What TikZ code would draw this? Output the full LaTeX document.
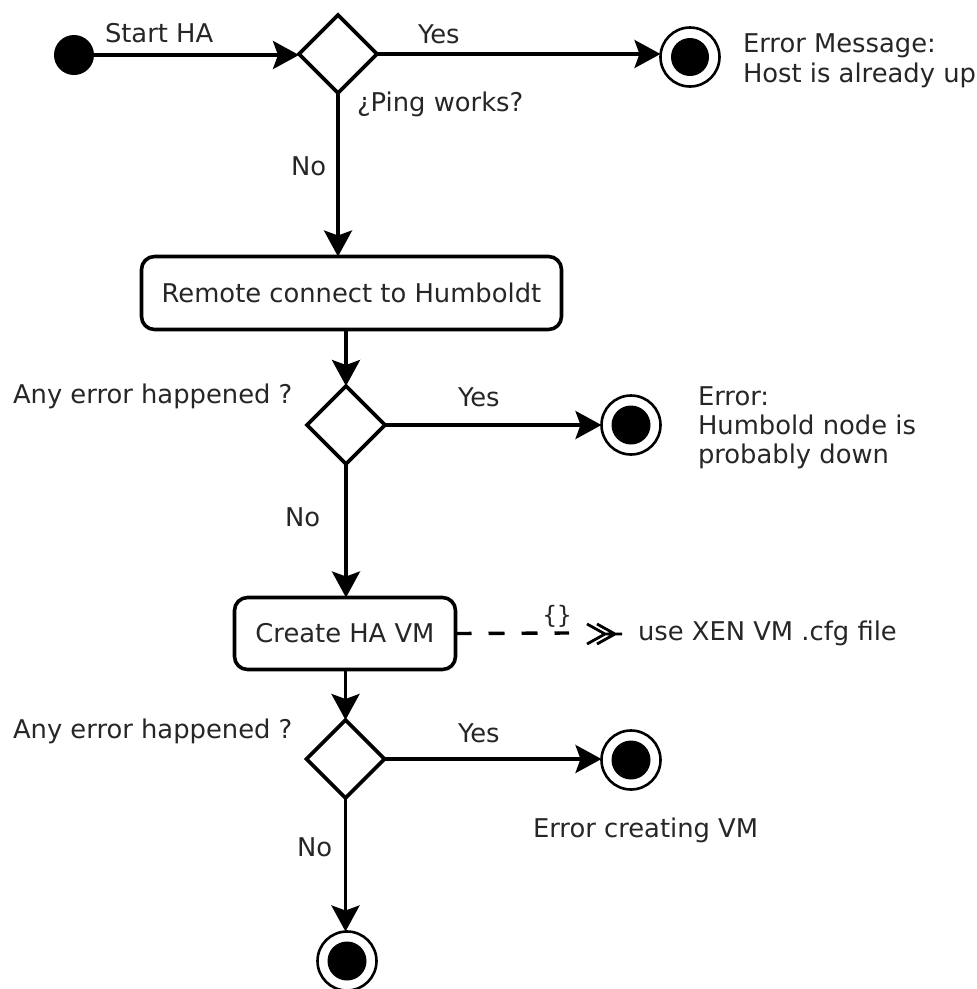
\documentclass[tikz,border=0pt]{standalone}
\usepackage{fontspec}
\setmainfont{DejaVu Sans}
\setmonofont{DejaVu Sans Mono}
\usetikzlibrary{shapes.geometric,arrows.meta}

\begin{document}
\begin{tikzpicture}[x=1pt,y=-1pt,
  every node/.style={outer sep=0pt},
  flow/.style={line width=3.6pt,-{Stealth[length=26pt,width=28pt,inset=5pt]}},
  txt/.style={anchor=base west,inner sep=0pt,text=black!85,
    font=\fontsize{25.8}{30}\selectfont},
  decision/.style={diamond,draw,line width=3.6pt,aspect=1,inner sep=0pt,
    minimum width=78pt,minimum height=78pt},
  activity/.style={draw,line width=3.6pt,rounded corners=13pt,inner sep=0pt,
    text=black!85,font=\fontsize{25.8}{30}\selectfont},
  startstate/.style={circle,fill=black,inner sep=0pt,minimum size=40pt},
  endstate/.style={circle,draw,line width=2.6pt,inner sep=0pt,minimum size=59pt},
  endcore/.style={fill=black},
]
\useasboundingbox (0,0) rectangle (977,989);

% states and activities
\node[startstate] (start) at (74,55) {};
\node[decision] (d1) at (338,54) {};
\node[endstate] (e1) at (690,57) {};
\fill[endcore] (e1.center) circle (19);

\node[activity,minimum width=420pt,minimum height=73pt] (remote) at (351.5,293) {Remote connect to Humboldt};

\node[decision] (d2) at (346,425) {};
\node[endstate] (e2) at (631,425) {};
\fill[endcore] (e2.center) circle (19.5);

\node[activity,minimum width=221pt,minimum height=72pt] (create) at (345,633.5) {Create HA VM};

\node[decision] (d3) at (345.5,759) {};
\node[endstate] (e3) at (631,760) {};
\fill[endcore] (e3.center) circle (19.5);

\node[endstate] (e4) at (347,961) {};
\fill[endcore] (e4.center) circle (19.5);

% transitions
\draw[flow] (start) -- (start -| d1.west);
\draw[flow] (d1.east) -- (d1.east -| e1.west);
\draw[flow] (d1.south) -- (d1.south |- remote.north);
\draw[flow] (remote.south -| d2.north) -- (d2.north);
\draw[flow] (d2.east) -- (e2.west);
\draw[flow] (d2.south) -- (d2.south |- create.north);
\draw[flow] (create.south -| d3.north) -- (d3.north);
\draw[flow] (d3.east) -- (d3.east -| e3.west);
\draw[flow] (d3.south) -- (d3.south |- e4.north);

% labels
\node[txt] (lstart) at (105,42) {Start HA};
\node[txt] (lyes1) at (418,43) {Yes};
\node[txt] (lping) at (357,111) {¿Ping works?};
\node[txt] (lno1) at (291,175) {No};
\node[txt] (lmsg1a) at (743,52) {Error Message:};
\node[txt] (lmsg1b) at (743,82) {Host is already up};

\node[txt] (lq2) at (13,403) {Any error happened ?};
\node[txt] (lyes2) at (458,406) {Yes};
\node[txt] (lmsg2a) at (698,405) {Error:};
\node[txt] (lmsg2b) at (698,434) {Humbold node is};
\node[txt] (lmsg2c) at (698,463) {probably down};
\node[txt] (lno2) at (285,526) {No};

\node[txt] (lq3) at (13,738) {Any error happened ?};
\node[txt] (lyes3) at (458,742) {Yes};
\node[txt] (lmsg3) at (533,837) {Error creating VM};
\node[txt] (lno3) at (297,856) {No};

% constraint on the VM creation step
\coordinate (cend) at (569,633);
\draw[line width=3.4pt,dash pattern=on 16pt off 17pt] (create.east) -- (cend);
\node[inner sep=0pt,text=black!85,font=\fontsize{24}{24}\selectfont\ttfamily] (cons) at (557,616) {\{\}};
\node[txt] (note) at (638,640) {use XEN VM .cfg file};
\coordinate (tip) at (622,634);
\draw[line width=2.8pt,line join=miter]
  (tip) -- ++(-17,0)
  (587,624) -- (605,634) -- (587,644)
  (597,624) -- (615,634) -- (597,644);
\end{tikzpicture}
\end{document}
